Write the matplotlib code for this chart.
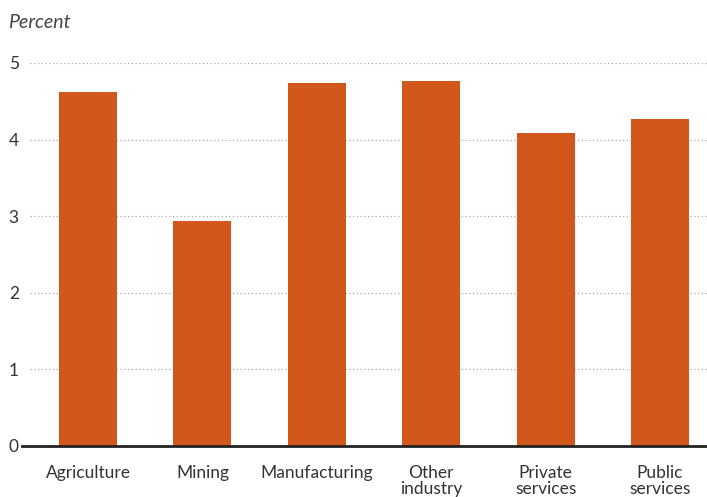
import matplotlib.pyplot as plt
from matplotlib.lines import Line2D

categories = ["Agriculture", "Mining", "Manufacturing", "Other\nindustry",
              "Private\nservices", "Public\nservices"]
values = [4.62, 2.94, 4.74, 4.77, 4.09, 4.27]
yticks = [0, 1, 2, 3, 4, 5]

plt.rcParams['font.family'] = ['Lato', 'DejaVu Sans']

fig = plt.figure(figsize=(7.07, 4.97), dpi=100)
W, H = 707, 497
left, right = 30, 707
bottom, top = 446, 63
ax = fig.add_axes([left / W, 1 - bottom / H, (right - left) / W, (bottom - top) / H])

x = list(range(len(categories)))
ax.bar(x, values, width=0.507, color="#D2571B", zorder=3)

ax.set_ylim(0, 5)
ax.set_xlim(-0.507, 5 + 47 / 114.4)
ax.set_yticks(yticks)
ax.set_yticklabels([str(t) for t in yticks], fontsize=12.5, color="#333333")
ax.set_xticks(x)
ax.set_xticklabels(categories, fontsize=12.5, color="#333333", linespacing=1.0, va="top")
ax.tick_params(axis="both", length=0)
ax.tick_params(axis="y", pad=8)
ax.tick_params(axis="x", pad=14)

for t in yticks[1:]:
    ax.axhline(t, color="#a8a8a8", lw=0.9, ls=(0, (1, 2)), zorder=1)

for s in ax.spines.values():
    s.set_visible(False)

# zero line extends a little left of the plotting area
ax.add_line(Line2D([-8 / (right - left), 1], [0, 0], transform=ax.transAxes,
                   color="#222222", lw=2, clip_on=False, zorder=4))

fig.text(8 / W, 1 - 22 / H, "Percent", fontsize=14, style="italic",
         color="#444444", va="center", ha="left")

fig.savefig("out.png", dpi=100)
